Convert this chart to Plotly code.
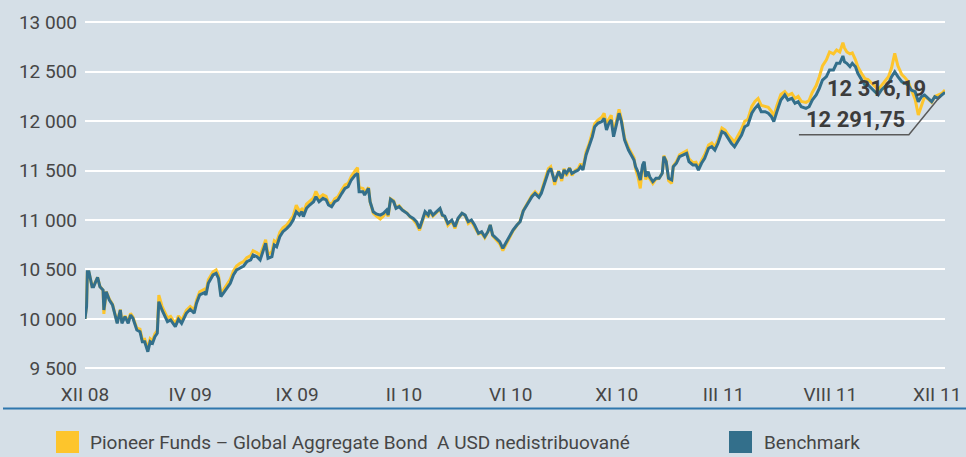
import plotly.graph_objects as go

# ---------------- data ----------------
fund_name = "Pioneer Funds \u2013 Global Aggregate Bond  A USD nedistribuovan\u00e9"
bench_name = "Benchmark"

tick_labels = ["XII 08", "IV 09", "IX 09", "II 10", "VI 10", "XI 10", "III 11", "VIII 11", "XII 11"]
tick_days = [0, 134, 270, 406, 542, 677, 813, 949, 1085]
y_ticks = [9500, 10000, 10500, 11000, 11500, 12000, 12500, 13000]

days = [0, 2, 3, 5, 9, 11, 16, 19, 23, 24, 27, 31, 35, 38, 41, 45, 47, 51, 55, 58, 61, 66, 70, 73, 76, 80, 83, 86, 89, 92,
        94, 98, 102, 105, 109, 115, 119, 123, 129, 134, 139, 142, 146, 152, 154, 157, 163, 167, 170, 173, 176, 180, 185, 189,
        193, 197, 202, 206, 211, 214, 219, 223, 227, 230, 233, 238, 241, 244, 248, 252, 257, 261, 265, 269, 273, 276, 278,
        282, 286, 291, 294, 298, 303, 307, 310, 314, 318, 322, 327, 331, 335, 339, 344, 347, 349, 354, 356, 361, 363, 367,
        371, 376, 380, 384, 386, 389, 393, 396, 400, 404, 410, 414, 418, 422, 426, 430, 433, 437, 439, 443, 448, 452, 455,
        458, 462, 467, 471, 475, 480, 484, 488, 492, 496, 501, 505, 509, 513, 516, 519, 523, 528, 532, 537, 541, 545, 550,
        554, 558, 563, 569, 573, 578, 581, 586, 590, 593, 595, 598, 603, 607, 610, 613, 617, 620, 624, 628, 631, 634, 638,
        642, 646, 649, 653, 658, 661, 664, 667, 670, 673, 677, 680, 683, 687, 692, 695, 699, 701, 704, 707, 710, 712, 714,
        717, 719, 723, 727, 731, 735, 737, 740, 743, 747, 749, 753, 757, 762, 766, 769, 774, 778, 781, 785, 789, 794, 798,
        802, 806, 811, 815, 819, 823, 827, 836, 840, 844, 849, 853, 857, 861, 866, 870, 874, 877, 881, 886, 891, 895, 900,
        904, 908, 912, 918, 922, 926, 931, 935, 939, 944, 948, 953, 957, 961, 965, 967, 970, 974, 977, 981, 984, 989, 993,
        997, 1001, 1006, 1010, 1014, 1018, 1023, 1027, 1031, 1035, 1040, 1044, 1048, 1052, 1057, 1061, 1065, 1069, 1074,
        1078, 1082, 1086, 1091, 1095]

benchmark = [10000, 10123, 10477, 10477, 10326, 10326, 10421, 10326, 10292, 10090, 10275, 10191, 10141, 10057, 9955,
             10090, 9955, 10022, 9955, 10039, 10006, 9888, 9871, 9769, 9769, 9668, 9769, 9753, 9820, 9854, 10174, 10090,
             10022, 9972, 9989, 9921, 9996, 9955, 10057, 10097, 10057, 10158, 10242, 10265, 10242, 10360, 10444, 10461,
             10410, 10225, 10259, 10309, 10360, 10444, 10495, 10512, 10535, 10578, 10596, 10646, 10629, 10596, 10697,
             10765, 10613, 10629, 10747, 10730, 10831, 10882, 10916, 10950, 11000, 11084, 11050, 11084, 11034, 11118,
             11152, 11185, 11236, 11185, 11220, 11203, 11152, 11135, 11185, 11203, 11270, 11320, 11337, 11405, 11455,
             11472, 11287, 11287, 11253, 11320, 11185, 11084, 11061, 11050, 11068, 11101, 11050, 11210, 11185, 11118,
             11135, 11101, 11068, 11034, 11017, 10983, 10916, 11000, 11084, 11050, 11101, 11050, 11084, 11118, 11050,
             11040, 10967, 11000, 10933, 11017, 11068, 11050, 10983, 11000, 10950, 10866, 10882, 10831, 10882, 10950,
             10849, 10815, 10781, 10714, 10781, 10831, 10899, 10950, 10983, 11091, 11152, 11236, 11270, 11230, 11270,
             11405, 11489, 11523, 11472, 11388, 11489, 11422, 11506, 11472, 11523, 11472, 11489, 11506, 11540, 11506,
             11658, 11742, 11843, 11944, 11978, 11995, 12029, 11911, 11978, 12012, 11843, 11978, 12080, 11995, 11810,
             11708, 11658, 11607, 11540, 11489, 11405, 11557, 11590, 11438, 11489, 11438, 11388, 11422, 11422, 11472,
             11641, 11590, 11422, 11405, 11540, 11574, 11641, 11658, 11675, 11590, 11557, 11557, 11506, 11574, 11624,
             11726, 11742, 11708, 11776, 11893, 11876, 11826, 11776, 11742, 11860, 11944, 11961, 12080, 12130, 12164,
             12096, 12096, 12080, 12046, 11995, 12096, 12214, 12265, 12214, 12231, 12181, 12197, 12146, 12130, 12146,
             12214, 12265, 12332, 12416, 12450, 12518, 12518, 12585, 12585, 12659, 12600, 12585, 12551, 12585, 12551,
             12484, 12416, 12366, 12366, 12332, 12298, 12265, 12315, 12349, 12383, 12450, 12500, 12450, 12399, 12383,
             12366, 12315, 12298, 12197, 12248, 12265, 12231, 12197, 12248, 12231, 12265, 12291.75]

fund = [10000, 10150, 10480, 10470, 10330, 10335, 10420, 10330, 10290, 10050, 10275, 10200, 10150, 10070, 9965, 10095,
        9970, 10030, 9975, 10055, 10020, 9905, 9895, 9790, 9795, 9700, 9800, 9780, 9850, 9880, 10240, 10130, 10060, 10010,
        10025, 9950, 10030, 9985, 10085, 10125, 10090, 10190, 10275, 10300, 10275, 10395, 10475, 10495, 10440, 10250,
        10290, 10345, 10400, 10485, 10535, 10560, 10580, 10620, 10640, 10690, 10670, 10640, 10740, 10800, 10650, 10680,
        10790, 10775, 10875, 10920, 10950, 10990, 11040, 11150, 11090, 11110, 11075, 11160, 11190, 11225, 11290, 11225,
        11255, 11240, 11175, 11160, 11215, 11235, 11305, 11355, 11370, 11440, 11500, 11530, 11330, 11320, 11275, 11330,
        11185, 11070, 11040, 11010, 11040, 11085, 11035, 11215, 11195, 11125, 11145, 11105, 11070, 11030, 11005, 10960,
        10895, 10990, 11070, 11030, 11090, 11040, 11075, 11110, 11045, 11035, 10945, 10990, 10915, 11010, 11065, 11045,
        10965, 10990, 10930, 10860, 10870, 10820, 10880, 10950, 10840, 10800, 10760, 10690, 10770, 10820, 10890, 10945,
        10990, 11095, 11160, 11250, 11285, 11240, 11290, 11420, 11520, 11540, 11480, 11355, 11500, 11395, 11520, 11445,
        11530, 11450, 11500, 11520, 11570, 11520, 11690, 11775, 11880, 11975, 12010, 12040, 12080, 11960, 12020, 12060,
        11880, 12010, 12120, 12020, 11830, 11730, 11690, 11630, 11520, 11440, 11320, 11540, 11580, 11410, 11470, 11420,
        11370, 11415, 11420, 11475, 11650, 11600, 11400, 11370, 11545, 11590, 11660, 11680, 11700, 11620, 11580, 11585,
        11530, 11600, 11660, 11760, 11780, 11740, 11810, 11930, 11910, 11860, 11820, 11790, 11920, 12000, 12020, 12150,
        12200, 12230, 12160, 12150, 12140, 12100, 12050, 12160, 12270, 12300, 12260, 12280, 12230, 12250, 12200, 12190,
        12210, 12290, 12360, 12450, 12560, 12620, 12700, 12680, 12720, 12700, 12794, 12740, 12700, 12680, 12690, 12620,
        12550, 12480, 12430, 12420, 12390, 12360, 12320, 12360, 12400, 12450, 12540, 12686, 12560, 12470, 12440, 12400,
        12320, 12220, 12062, 12150, 12250, 12220, 12190, 12250, 12260, 12280, 12316.19]

# ---------------- style ----------------
BG = "#d5dfe7"
YELLOW = "#fdc52c"
TEAL = "#336f8b"
TXT = "#464646"
FONT = "Roboto, Liberation Sans, sans-serif"
FS = 19

W, H = 966, 457
ML, MR, MT, MB = 85, 21, 17, 79
PW, PH = W - ML - MR, H - MT - MB


def px(xp):
    return (xp - ML) / PW


def py(yp):
    return (H - MB - yp) / PH


def fmt(v):
    return f"{v:,.2f}".replace(",", " ").replace(".", ",")


fig = go.Figure()
fig.add_trace(go.Scatter(x=days, y=fund, mode="lines", name=fund_name,
                         line=dict(color=YELLOW, width=3), showlegend=False))
fig.add_trace(go.Scatter(x=days, y=benchmark, mode="lines", name=bench_name,
                         line=dict(color=TEAL, width=3), showlegend=False))

shapes = [
    dict(type="line", xref="paper", yref="paper", x0=px(3), x1=px(966), y0=py(408.5), y1=py(408.5),
         line=dict(color="#2f77ad", width=2)),
    dict(type="rect", xref="paper", yref="paper", x0=px(56), x1=px(79), y0=py(453), y1=py(431),
         fillcolor=YELLOW, line=dict(width=0)),
    dict(type="rect", xref="paper", yref="paper", x0=px(729), x1=px(752), y0=py(453), y1=py(431),
         fillcolor=TEAL, line=dict(width=0)),
    dict(type="path", xref="x", yref="y",
         path=f"M {days[-1] - 6},{benchmark[-1] - 40} L 1049,11862 L 909,11862",
         line=dict(color="#5a5a5a", width=1.5)),
]

annotations = [
    dict(xref="paper", yref="paper", x=px(88), y=py(442), text=fund_name, showarrow=False,
         xanchor="left", yanchor="middle", font=dict(family=FONT, size=FS, color=TXT)),
    dict(xref="paper", yref="paper", x=px(762), y=py(442), text=bench_name, showarrow=False,
         xanchor="left", yanchor="middle", font=dict(family=FONT, size=FS, color=TXT)),
    dict(xref="x", yref="y", x=1008, y=12330, text=fmt(fund[-1]), showarrow=False,
         xanchor="center", yanchor="middle", font=dict(family=FONT, size=22, color="#3c3c3c", weight="bold")),
    dict(xref="x", yref="y", x=981, y=12012, text=fmt(benchmark[-1]), showarrow=False,
         xanchor="center", yanchor="middle", font=dict(family=FONT, size=22, color="#3c3c3c", weight="bold")),
]

fig.update_layout(
    width=W, height=H,
    margin=dict(l=ML, r=MR, t=MT, b=MB, autoexpand=False),
    paper_bgcolor=BG, plot_bgcolor=BG,
    font=dict(family=FONT, size=FS, color=TXT),
    shapes=shapes, annotations=annotations,
    xaxis=dict(range=[0, 1095], tickmode="array", tickvals=tick_days, ticktext=tick_labels,
               showgrid=False, zeroline=False, showline=False, ticks="", ticklabelstandoff=3,
               tickfont=dict(family=FONT, size=FS, color=TXT), fixedrange=True),
    yaxis=dict(range=[9402, 13053.6], tickmode="array", tickvals=y_ticks,
               ticktext=[f"{v:,d}".replace(",", " ") for v in y_ticks],
               showgrid=True, gridcolor="white", gridwidth=1.5, zeroline=False, showline=False,
               ticks="", ticklabelstandoff=7, tickfont=dict(family=FONT, size=FS, color=TXT), fixedrange=True),
)

fig.write_html("out.html", config={"displayModeBar": False},
               post_script="document.body.style.margin='0px';")
